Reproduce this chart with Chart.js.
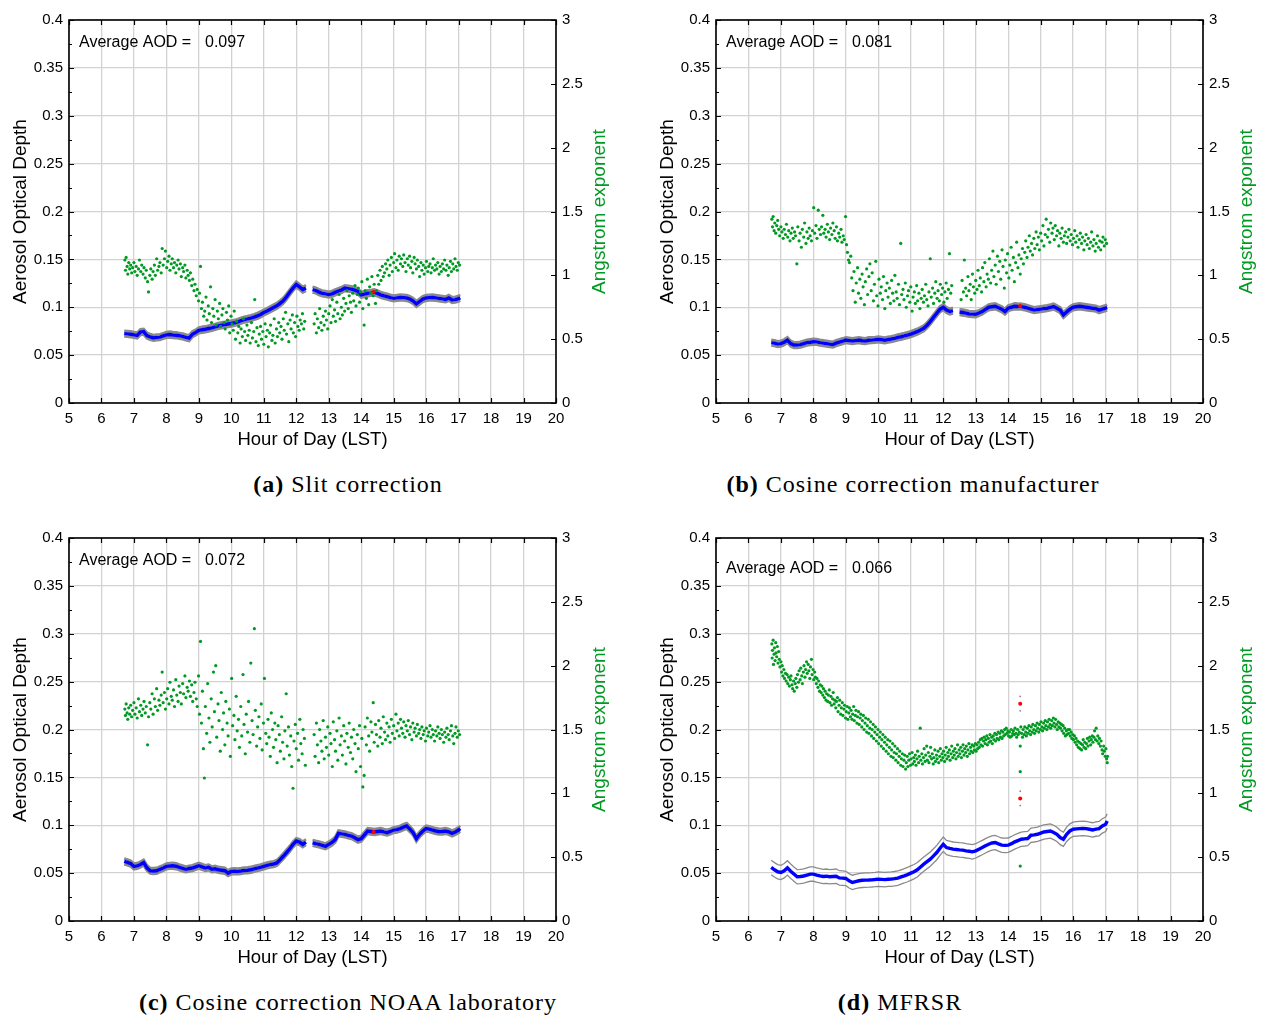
<!DOCTYPE html>
<html>
<head>
<meta charset="utf-8">
<script src="https://cdn.jsdelivr.net/npm/chart.js@4.4.1/dist/chart.umd.min.js"></script>
<style>
  html, body { margin: 0; padding: 0; background: #fff; }
  body { width: 1263px; height: 1017px; position: relative; overflow: hidden; }
  canvas { position: absolute; }
  .cap { position: absolute; transform: translate(-50%, -50%); font-family: 'Liberation Serif', serif; font-size: 24px; letter-spacing: 1px; white-space: nowrap; color: #000; }
</style>
</head>
<body>
<canvas id="panelA" width="616" height="460" style="left:0px;top:0px"></canvas>
<canvas id="panelB" width="616" height="460" style="left:647px;top:0px"></canvas>
<canvas id="panelC" width="616" height="460" style="left:0px;top:518px"></canvas>
<canvas id="panelD" width="616" height="460" style="left:647px;top:518px"></canvas>
<div class="cap" style="left:348px;top:484px"><b>(a)</b> Slit correction</div>
<div class="cap" style="left:913px;top:484px"><b>(b)</b> Cosine correction manufacturer</div>
<div class="cap" style="left:348px;top:1002px"><b>(c)</b> Cosine correction NOAA laboratory</div>
<div class="cap" style="left:900px;top:1002px"><b>(d)</b> MFRSR</div>
<script>
// axis ticks
const hourTicks = [5,6,7,8,9,10,11,12,13,14,15,16,17,18,19,20];
const aodTicks = [0,0.05,0.1,0.15,0.2,0.25,0.3,0.35,0.4];
const angTicks = [0,0.5,1,1.5,2,2.5,3];

// time of the AOD samples (hour, LST)
const hours = [6.7,6.8,6.9,7.0,7.1,7.2,7.3,7.4,7.5,7.6,7.7,7.8,7.9,8.0,8.1,8.2,8.3,8.4,8.5,8.6,
  8.7,8.8,8.9,9.0,9.1,9.2,9.3,9.4,9.5,9.6,9.7,9.8,9.9,10.0,10.1,10.2,10.3,10.4,10.5,10.6,
  10.7,10.8,10.9,11.0,11.1,11.2,11.3,11.4,11.5,11.6,11.7,11.8,11.9,12.0,12.1,12.2,12.3,12.4,12.5,12.6,
  12.7,12.8,12.9,13.0,13.1,13.2,13.3,13.4,13.5,13.6,13.7,13.8,13.9,14.0,14.1,14.2,14.3,14.4,14.5,14.6,
  14.7,14.8,14.9,15.0,15.1,15.2,15.3,15.4,15.5,15.6,15.7,15.8,15.9,16.0,16.1,16.2,16.3,16.4,16.5,16.6,
  16.7,16.8,16.9,17.0,17.05];

// AOD per correction method (null = no data)
const aodA = [.0725,.0722,.0718,.0712,.0705,.0740,.0745,.0705,.0690,.0680,
  .0685,.0688,.0700,.0712,.0715,.0710,.0708,.0702,.0695,.0685,
  .0678,.0718,.0735,.0758,.0765,.0770,.0778,.0785,.0795,.0806,
  .0812,.0818,.0825,.0830,.0838,.0848,.0860,.0870,.0878,.0887,
  .0898,.0910,.0925,.0945,.0960,.0980,.0998,.1015,.1040,.1068,
  .1110,.1156,.1200,.1238,.1212,.1185,.1200,null,.1185,.1175,
  .1158,.1145,.1140,.1132,.1140,.1155,.1170,.1182,.1200,.1195,
  .1190,.1178,.1165,.1130,.1138,.1146,.1150,.1156,.1145,.1130,
  .1120,.1110,.1100,.1093,.1098,.1102,.1100,.1097,.1085,.1065,
  .1035,.1060,.1085,.1097,.1100,.1102,.1098,.1093,.1088,.1082,
  .1098,.1076,.1080,.1090,.1100];
const aodB = [.0630,.0625,.0615,.0620,.0635,.0657,.0620,.0605,.0605,.0610,
  .0620,.0630,.0635,.0640,.0638,.0630,.0625,.0620,.0615,.0610,
  .0625,.0636,.0645,.0657,.0652,.0647,.0652,.0657,.0650,.0647,
  .0655,.0657,.0660,.0664,.0660,.0655,.0662,.0668,.0675,.0685,
  .0692,.0700,.0710,.0720,.0732,.0745,.0762,.0780,.0812,.0850,
  .0895,.0937,.0980,.1000,.0970,.0955,.0965,null,.0950,.0945,
  .0938,.0930,.0928,.0927,.0940,.0955,.0978,.1000,.1005,.1010,
  .0995,.0980,.0955,.0990,.1000,.1010,.1008,.1007,.1000,.0990,
  .0980,.0970,.0975,.0980,.0985,.0990,.0998,.1007,.0990,.0970,
  .0920,.0950,.0980,.1000,.1005,.1010,.1005,.1000,.0995,.0990,
  .0985,.0970,.0980,.0990,.0995];
const aodC = [.0623,.0612,.0600,.0570,.0575,.0590,.0610,.0555,.0525,.0522,
  .0525,.0540,.0553,.0570,.0575,.0577,.0572,.0560,.0550,.0540,
  .0548,.0553,.0565,.0577,.0565,.0553,.0560,.0540,.0545,.0535,
  .0530,.0525,.0500,.0518,.0520,.0518,.0522,.0528,.0530,.0535,
  .0545,.0553,.0560,.0570,.0580,.0588,.0595,.0606,.0640,.0676,
  .0715,.0754,.0800,.0835,.0824,.0800,.0824,null,.0817,.0808,
  .0800,.0790,.0780,.0800,.0820,.0850,.0915,.0910,.0905,.0895,
  .0887,.0870,.0850,.0860,.0900,.0940,.0935,.0930,.0935,.0940,
  .0930,.0923,.0935,.0950,.0955,.0965,.0980,.0993,.0960,.0923,
  .0860,.0905,.0940,.0965,.0960,.0950,.0940,.0933,.0935,.0940,
  .0930,.0915,.0930,.0950,.0965];
const aodD = [.0559,.0535,.0514,.0507,.0525,.0555,.0520,.0490,.0462,.0465,
  .0470,.0480,.0490,.0490,.0480,.0472,.0465,.0468,.0462,.0465,
  .0468,.0450,.0448,.0444,.0420,.0403,.0412,.0420,.0425,.0427,
  .0428,.0430,.0433,.0437,.0435,.0432,.0436,.0437,.0442,.0448,
  .0460,.0472,.0485,.0500,.0515,.0535,.0565,.0594,.0620,.0646,
  .0680,.0715,.0760,.0802,.0767,.0758,.0750,.0747,.0743,.0740,
  .0733,.0728,.0722,.0733,.0750,.0767,.0785,.0802,.0815,.0820,
  .0805,.0792,.0790,.0792,.0808,.0826,.0840,.0854,.0858,.0861,
  .0896,.0900,.0906,.0918,.0930,.0935,.0940,.0925,.0905,.0872,
  .0854,.0906,.0940,.0958,.0962,.0965,.0967,.0965,.0958,.0951,
  .0960,.0965,.0993,.1010,.1045];

// half width of the AOD uncertainty band
const errA = 0.003, errB = 0.003, errC = 0.003, errD = 0.0075;

// flagged AOD samples [hour, aod]
const flagA = [[14.38,0.116]];
const flagB = [[14.37,0.1014]];
const flagC = [[14.38,0.093]];
const flagD = [[14.37,0.227],[14.37,0.128]];

// Angstrom exponent samples [hour, alpha]
const angA = [[6.72,1.12],[6.74,1.04],[6.76,1.14],[6.79,1.07],[6.81,1.01],[6.84,1.10],[6.87,1.05],[6.90,1.08],[6.93,1.02],[6.96,1.06],
  [7.00,1.10],[7.03,1.03],[7.07,1.07],[7.10,1.00],[7.14,1.05],[7.17,1.12],[7.21,1.03],[7.24,1.08],[7.28,1.01],[7.31,1.06],
  [7.35,0.98],[7.38,1.04],[7.42,0.95],[7.45,0.87],[7.49,1.00],[7.52,1.05],[7.56,0.97],[7.59,1.03],[7.63,1.08],[7.66,1.00],
  [7.70,1.13],[7.73,1.04],[7.77,1.07],[7.80,1.10],[7.84,1.02],[7.87,1.21],[7.90,1.08],[7.94,1.13],[7.97,1.19],[8.01,1.06],
  [8.04,1.11],[8.08,1.15],[8.11,1.04],[8.15,1.09],[8.18,1.13],[8.22,1.06],[8.25,1.10],[8.29,1.02],[8.32,1.08],[8.36,1.12],
  [8.39,1.05],[8.43,1.09],[8.46,0.99],[8.50,1.06],[8.53,1.03],[8.57,1.08],[8.60,0.98],[8.64,1.04],[8.67,1.00],[8.71,0.96],
  [8.74,1.02],[8.78,0.92],[8.81,0.97],[8.85,0.88],[8.88,0.93],[8.92,0.84],[8.95,0.89],[8.99,0.80],[9.02,0.86],[9.05,1.07],
  [9.08,0.74],[9.11,0.79],[9.15,0.68],[9.18,0.72],[9.22,0.83],[9.25,0.65],[9.29,0.76],[9.32,0.70],[9.36,0.91],[9.39,0.63],
  [9.43,0.74],[9.46,0.68],[9.50,0.81],[9.53,0.61],[9.57,0.72],[9.60,0.66],[9.64,0.78],[9.67,0.60],[9.71,0.69],[9.74,0.74],
  [9.78,0.63],[9.81,0.58],[9.85,0.71],[9.88,0.65],[9.92,0.76],[9.95,0.55],[9.99,0.68],[10.02,0.62],[10.06,0.57],[10.09,0.72],
  [10.13,0.50],[10.16,0.64],[10.20,0.55],[10.23,0.60],[10.27,0.47],[10.30,0.58],[10.34,0.52],[10.37,0.66],[10.41,0.56],[10.44,0.49],
  [10.48,0.61],[10.51,0.53],[10.55,0.57],[10.58,0.47],[10.62,0.63],[10.65,0.51],[10.69,0.56],[10.72,0.81],[10.76,0.48],[10.79,0.59],
  [10.83,0.45],[10.86,0.54],[10.90,0.60],[10.93,0.50],[10.97,0.56],[11.00,0.46],[11.04,0.62],[11.07,0.52],[11.11,0.57],[11.14,0.44],
  [11.18,0.55],[11.21,0.61],[11.25,0.49],[11.28,0.53],[11.32,0.66],[11.35,0.47],[11.39,0.58],[11.42,0.52],[11.46,0.63],[11.49,0.55],
  [11.53,0.60],[11.56,0.50],[11.60,0.66],[11.63,0.57],[11.67,0.71],[11.70,0.54],[11.74,0.62],[11.77,0.48],[11.81,0.65],[11.84,0.58],
  [11.88,0.69],[11.91,0.55],[11.95,0.63],[11.98,0.52],[12.02,0.68],[12.05,0.60],[12.09,0.57],[12.12,0.65],[12.16,0.62],[12.19,0.70],
  [12.23,0.58],[12.26,0.64],[12.55,0.62],[12.58,0.70],[12.62,0.55],[12.65,0.66],[12.69,0.59],[12.72,0.74],[12.76,0.63],[12.79,0.57],
  [12.83,0.68],[12.86,0.61],[12.90,0.72],[12.93,0.65],[12.97,0.58],[13.00,0.70],[13.04,0.76],[13.07,0.63],[13.11,0.81],[13.14,0.68],
  [13.18,0.73],[13.21,0.64],[13.25,0.79],[13.28,0.70],[13.32,0.85],[13.35,0.66],[13.39,0.75],[13.42,0.69],[13.46,0.82],[13.49,0.72],
  [13.53,0.78],[13.56,0.88],[13.60,0.74],[13.63,0.84],[13.67,0.79],[13.70,0.71],[13.74,0.86],[13.77,0.80],[13.81,0.92],[13.84,0.76],
  [13.88,0.85],[13.91,0.90],[13.95,0.79],[13.98,0.87],[14.02,0.95],[14.05,0.74],[14.09,0.61],[14.12,0.88],[14.16,0.82],[14.19,0.97],
  [14.23,0.77],[14.26,0.91],[14.30,0.86],[14.33,0.99],[14.37,0.84],[14.40,0.93],[14.44,0.78],[14.47,0.88],[14.51,1.00],[14.54,0.93],
  [14.58,1.04],[14.61,0.96],[14.65,1.07],[14.68,0.99],[14.72,1.02],[14.75,1.09],[14.79,1.05],[14.82,1.12],[14.86,1.00],[14.89,1.08],
  [14.93,1.14],[14.96,1.03],[15.00,1.10],[15.03,1.17],[15.07,1.06],[15.10,1.12],[15.14,1.04],[15.17,1.15],[15.21,1.09],[15.24,1.13],
  [15.28,1.07],[15.31,1.16],[15.35,1.10],[15.38,1.03],[15.42,1.13],[15.45,1.08],[15.49,1.15],[15.52,1.06],[15.56,1.11],[15.59,1.02],
  [15.63,1.14],[15.66,1.09],[15.70,1.05],[15.73,1.12],[15.77,1.07],[15.80,0.99],[15.84,1.10],[15.87,1.04],[15.91,1.08],[15.94,1.01],
  [15.98,1.06],[16.01,1.11],[16.05,1.03],[16.08,1.07],[16.12,1.09],[16.15,1.02],[16.19,1.06],[16.22,1.13],[16.26,1.04],[16.29,1.08],
  [16.33,1.05],[16.36,1.10],[16.40,1.01],[16.43,1.07],[16.47,1.03],[16.50,1.09],[16.54,1.05],[16.57,1.12],[16.61,1.04],[16.64,1.08],
  [16.68,1.00],[16.71,1.06],[16.75,1.11],[16.78,1.03],[16.82,1.09],[16.85,1.05],[16.89,1.13],[16.92,1.07],[16.96,1.04],[16.99,1.10],
  [17.03,1.08]];
const angB = [[6.72,1.44],[6.74,1.38],[6.76,1.46],[6.79,1.35],[6.81,1.41],[6.84,1.33],[6.87,1.39],[6.90,1.43],[6.93,1.36],[6.96,1.31],
  [7.00,1.38],[7.03,1.34],[7.07,1.29],[7.10,1.36],[7.14,1.32],[7.17,1.40],[7.21,1.30],[7.24,1.35],[7.28,1.27],[7.31,1.33],
  [7.35,1.37],[7.38,1.29],[7.42,1.34],[7.45,1.31],[7.49,1.09],[7.52,1.38],[7.56,1.27],[7.59,1.33],[7.63,1.22],[7.66,1.36],
  [7.70,1.30],[7.73,1.41],[7.77,1.25],[7.80,1.34],[7.84,1.29],[7.87,1.37],[7.90,1.31],[7.94,1.27],[7.97,1.35],[8.01,1.53],
  [8.04,1.33],[8.08,1.39],[8.11,1.29],[8.15,1.51],[8.18,1.36],[8.22,1.32],[8.25,1.38],[8.29,1.47],[8.32,1.33],[8.36,1.36],
  [8.39,1.30],[8.43,1.40],[8.46,1.34],[8.50,1.28],[8.53,1.37],[8.57,1.32],[8.60,1.41],[8.64,1.35],[8.67,1.29],[8.71,1.38],
  [8.74,1.27],[8.78,1.33],[8.81,1.30],[8.85,1.36],[8.88,1.26],[8.92,1.31],[8.95,1.28],[8.99,1.46],[9.02,1.24],[9.05,1.18],
  [9.08,1.12],[9.11,1.10],[9.15,1.15],[9.18,0.98],[9.22,0.88],[9.25,1.03],[9.29,0.79],[9.32,0.94],[9.36,1.06],[9.39,0.86],
  [9.43,0.97],[9.46,0.82],[9.50,1.01],[9.53,0.91],[9.57,0.77],[9.60,0.95],[9.64,1.05],[9.67,0.85],[9.71,0.99],[9.74,1.09],
  [9.78,0.88],[9.81,1.02],[9.85,0.80],[9.88,0.93],[9.92,1.11],[9.95,0.84],[9.99,0.76],[10.02,0.97],[10.06,0.86],[10.09,0.91],
  [10.13,0.81],[10.16,0.99],[10.20,0.74],[10.23,0.88],[10.27,0.94],[10.30,0.83],[10.34,0.90],[10.37,0.78],[10.41,0.96],[10.44,0.86],
  [10.48,0.80],[10.51,1.00],[10.55,0.87],[10.58,0.82],[10.62,0.93],[10.65,0.77],[10.69,1.25],[10.72,0.85],[10.76,0.89],[10.79,0.81],
  [10.83,0.94],[10.86,0.75],[10.90,0.84],[10.93,0.88],[10.97,0.79],[11.00,0.91],[11.04,0.72],[11.07,0.83],[11.11,0.87],[11.14,0.78],
  [11.18,0.92],[11.21,0.80],[11.25,0.86],[11.28,0.74],[11.32,0.82],[11.35,0.89],[11.39,0.79],[11.42,0.84],[11.46,0.93],[11.49,0.81],
  [11.53,0.76],[11.56,0.87],[11.60,1.13],[11.63,0.83],[11.67,0.90],[11.70,0.78],[11.74,0.86],[11.77,0.95],[11.81,0.82],[11.84,0.88],
  [11.88,0.80],[11.91,0.93],[11.95,0.85],[11.98,0.90],[12.02,0.79],[12.05,0.87],[12.09,0.94],[12.12,0.82],[12.16,0.89],[12.19,1.17],
  [12.23,0.86],[12.26,0.92],[12.55,0.81],[12.58,0.96],[12.62,0.87],[12.65,1.12],[12.69,0.90],[12.72,0.84],[12.76,0.99],[12.79,0.88],
  [12.83,0.93],[12.86,0.81],[12.90,1.01],[12.93,0.91],[12.97,0.86],[13.00,0.96],[13.04,0.89],[13.07,1.04],[13.11,0.92],[13.14,0.98],
  [13.18,0.87],[13.21,1.06],[13.25,0.95],[13.28,1.10],[13.32,0.91],[13.35,1.01],[13.39,0.97],[13.42,1.13],[13.46,0.94],[13.49,1.04],
  [13.53,1.19],[13.56,0.99],[13.60,1.08],[13.63,0.93],[13.67,1.15],[13.70,1.03],[13.74,1.11],[13.77,0.97],[13.81,1.20],[13.84,1.07],
  [13.88,0.90],[13.91,1.12],[13.95,1.02],[13.98,1.17],[14.02,0.98],[14.05,1.08],[14.09,1.22],[14.12,1.04],[14.16,1.14],[14.19,0.95],
  [14.23,1.10],[14.26,1.26],[14.30,1.06],[14.33,1.16],[14.37,1.01],[14.40,1.13],[14.44,1.21],[14.47,1.09],[14.51,1.18],[14.54,1.27],
  [14.58,1.14],[14.61,1.22],[14.65,1.31],[14.68,1.19],[14.72,1.25],[14.75,1.16],[14.79,1.29],[14.82,1.21],[14.86,1.34],[14.89,1.24],
  [14.93,1.30],[14.96,1.20],[15.00,1.33],[15.03,1.27],[15.07,1.39],[15.10,1.23],[15.14,1.32],[15.17,1.44],[15.21,1.30],[15.24,1.36],
  [15.28,1.26],[15.31,1.41],[15.35,1.33],[15.38,1.37],[15.42,1.28],[15.45,1.39],[15.49,1.31],[15.52,1.35],[15.56,1.23],[15.59,1.33],
  [15.63,1.29],[15.66,1.37],[15.70,1.26],[15.73,1.31],[15.77,1.34],[15.80,1.25],[15.84,1.30],[15.87,1.36],[15.91,1.27],[15.94,1.32],
  [15.98,1.24],[16.01,1.29],[16.05,1.35],[16.08,1.26],[16.12,1.31],[16.15,1.22],[16.19,1.28],[16.22,1.33],[16.26,1.25],[16.29,1.30],
  [16.33,1.20],[16.36,1.27],[16.40,1.32],[16.43,1.24],[16.47,1.29],[16.50,1.21],[16.54,1.26],[16.57,1.34],[16.61,1.23],[16.64,1.28],
  [16.68,1.19],[16.71,1.25],[16.75,1.31],[16.78,1.22],[16.82,1.27],[16.85,1.20],[16.89,1.26],[16.92,1.30],[16.96,1.23],[16.99,1.28],
  [17.03,1.25]];
const angC = [[6.72,1.66],[6.74,1.61],[6.76,1.70],[6.79,1.63],[6.81,1.58],[6.84,1.67],[6.87,1.62],[6.90,1.69],[6.93,1.60],[6.96,1.65],
  [7.00,1.71],[7.03,1.62],[7.07,1.67],[7.10,1.59],[7.14,1.74],[7.17,1.64],[7.21,1.69],[7.24,1.61],[7.28,1.66],[7.31,1.72],
  [7.35,1.63],[7.38,1.68],[7.42,1.38],[7.45,1.60],[7.49,1.71],[7.52,1.66],[7.56,1.78],[7.59,1.62],[7.63,1.74],[7.66,1.68],
  [7.70,1.82],[7.73,1.65],[7.77,1.73],[7.80,1.69],[7.84,1.77],[7.87,1.95],[7.90,1.71],[7.94,1.79],[7.97,1.66],[8.01,1.74],
  [8.04,1.82],[8.08,1.70],[8.11,1.87],[8.15,1.76],[8.18,1.73],[8.22,1.81],[8.25,1.68],[8.29,1.89],[8.32,1.77],[8.36,1.72],
  [8.39,1.84],[8.43,1.79],[8.46,1.70],[8.50,1.86],[8.53,1.78],[8.57,1.92],[8.60,1.75],[8.64,1.83],[8.67,1.80],[8.71,1.88],
  [8.74,1.76],[8.78,1.85],[8.81,1.72],[8.85,1.79],[8.88,1.87],[8.92,1.74],[8.95,1.68],[8.99,1.92],[9.02,1.62],[9.05,2.19],
  [9.08,1.55],[9.11,1.80],[9.14,1.35],[9.17,1.12],[9.20,1.68],[9.24,1.47],[9.27,1.86],[9.31,1.59],[9.34,1.40],[9.38,1.74],
  [9.41,1.52],[9.45,1.95],[9.48,1.64],[9.52,2.00],[9.55,1.44],[9.59,1.70],[9.62,1.57],[9.66,1.33],[9.69,1.79],[9.73,1.50],
  [9.76,1.63],[9.80,1.38],[9.83,1.72],[9.87,1.55],[9.90,1.45],[9.94,1.66],[9.97,1.29],[10.01,1.90],[10.04,1.53],[10.08,1.61],
  [10.11,1.42],[10.15,1.76],[10.18,1.49],[10.22,1.58],[10.25,1.36],[10.29,1.68],[10.32,1.45],[10.36,1.93],[10.39,1.54],[10.43,1.31],
  [10.46,1.62],[10.50,1.48],[10.53,1.72],[10.57,1.40],[10.60,2.02],[10.64,1.57],[10.67,1.46],[10.71,2.29],[10.74,1.65],[10.78,1.37],
  [10.81,1.52],[10.85,1.60],[10.88,1.43],[10.92,1.70],[10.95,1.34],[10.99,1.55],[11.02,1.90],[11.06,1.47],[11.09,1.39],[11.13,1.58],
  [11.16,1.44],[11.20,1.29],[11.23,1.63],[11.27,1.50],[11.30,1.36],[11.34,1.55],[11.37,1.42],[11.41,1.24],[11.44,1.53],[11.48,1.46],
  [11.51,1.33],[11.55,1.60],[11.58,1.40],[11.62,1.27],[11.65,1.49],[11.69,1.78],[11.72,1.37],[11.76,1.52],[11.79,1.30],[11.83,1.45],
  [11.86,1.21],[11.90,1.04],[11.93,1.41],[11.97,1.54],[12.00,1.35],[12.04,1.47],[12.07,1.26],[12.11,1.58],[12.14,1.39],[12.18,1.31],
  [12.21,1.50],[12.25,1.43],[12.28,1.22],[12.55,1.46],[12.58,1.29],[12.62,1.55],[12.65,1.38],[12.69,1.24],[12.72,1.50],[12.76,1.41],
  [12.79,1.33],[12.83,1.57],[12.86,1.27],[12.90,1.44],[12.93,1.36],[12.97,1.52],[13.00,1.30],[13.04,1.47],[13.07,1.39],[13.11,1.21],
  [13.14,1.56],[13.18,1.42],[13.21,1.33],[13.25,1.49],[13.28,1.26],[13.32,1.59],[13.35,1.38],[13.39,1.45],[13.42,1.30],[13.46,1.53],
  [13.49,1.41],[13.53,1.23],[13.56,1.47],[13.60,1.36],[13.63,1.55],[13.67,1.32],[13.70,1.44],[13.74,1.27],[13.77,1.50],[13.81,1.39],
  [13.84,1.17],[13.88,1.46],[13.91,1.35],[13.95,1.53],[13.98,1.21],[14.02,1.43],[14.05,1.05],[14.09,1.14],[14.12,1.52],[14.16,1.38],
  [14.19,1.59],[14.23,1.45],[14.26,1.33],[14.30,1.56],[14.33,1.48],[14.37,1.71],[14.40,1.40],[14.44,1.54],[14.47,1.46],[14.51,1.37],
  [14.54,1.57],[14.58,1.44],[14.61,1.51],[14.65,1.39],[14.68,1.60],[14.72,1.48],[14.75,1.42],[14.79,1.55],[14.82,1.45],[14.86,1.52],
  [14.89,1.40],[14.93,1.58],[14.96,1.47],[15.00,1.53],[15.03,1.43],[15.07,1.62],[15.10,1.49],[15.14,1.55],[15.17,1.45],[15.21,1.58],
  [15.24,1.51],[15.28,1.47],[15.31,1.56],[15.35,1.44],[15.38,1.53],[15.42,1.49],[15.45,1.57],[15.49,1.46],[15.52,1.52],[15.56,1.42],
  [15.59,1.55],[15.63,1.48],[15.66,1.51],[15.70,1.45],[15.73,1.54],[15.77,1.47],[15.80,1.50],[15.84,1.43],[15.87,1.52],[15.91,1.46],
  [15.94,1.49],[15.98,1.41],[16.01,1.51],[16.05,1.45],[16.08,1.48],[16.12,1.53],[16.15,1.44],[16.19,1.50],[16.22,1.46],[16.26,1.41],
  [16.29,1.49],[16.33,1.45],[16.36,1.52],[16.40,1.47],[16.43,1.43],[16.47,1.50],[16.50,1.46],[16.54,1.40],[16.57,1.48],[16.61,1.44],
  [16.64,1.51],[16.68,1.46],[16.71,1.42],[16.75,1.49],[16.78,1.53],[16.82,1.45],[16.85,1.39],[16.89,1.47],[16.92,1.52],[16.96,1.44],
  [16.99,1.49],[17.03,1.46]];
const angD = [[6.72,2.17],[6.73,2.06],[6.74,2.12],[6.76,2.20],[6.77,2.01],[6.79,2.09],[6.80,2.14],[6.82,2.04],[6.84,2.18],[6.85,2.10],
  [6.87,2.07],[6.89,2.15],[6.91,2.02],[6.93,2.11],[6.95,2.05],[6.97,1.99],[7.00,2.03],[7.02,1.95],[7.04,2.00],[7.06,1.92],
  [7.09,1.97],[7.11,1.90],[7.14,1.94],[7.16,1.88],[7.19,1.93],[7.21,1.86],[7.24,1.91],[7.26,1.84],[7.29,1.89],[7.31,1.92],
  [7.34,1.85],[7.36,1.82],[7.39,1.88],[7.41,1.80],[7.44,1.86],[7.46,1.90],[7.49,1.83],[7.51,1.93],[7.54,1.87],[7.56,1.96],
  [7.59,1.89],[7.61,1.98],[7.64,1.92],[7.66,1.86],[7.69,1.95],[7.71,2.00],[7.74,1.91],[7.76,1.97],[7.79,2.03],[7.81,1.94],
  [7.84,2.01],[7.86,1.96],[7.89,1.90],[7.91,1.99],[7.94,2.05],[7.96,1.93],[7.99,1.97],[8.01,1.89],[8.04,1.95],[8.06,1.91],
  [8.09,1.86],[8.11,1.90],[8.14,1.83],[8.16,1.88],[8.19,1.80],[8.21,1.85],[8.24,1.79],[8.26,1.84],[8.29,1.77],[8.31,1.82],
  [8.34,1.75],[8.36,1.80],[8.39,1.73],[8.41,1.78],[8.44,1.72],[8.46,1.77],[8.49,1.81],[8.51,1.71],[8.54,1.76],[8.56,1.69],
  [8.59,1.74],[8.61,1.79],[8.64,1.70],[8.66,1.73],[8.69,1.67],[8.71,1.72],[8.74,1.75],[8.76,1.64],[8.79,1.69],[8.81,1.73],
  [8.84,1.62],[8.86,1.67],[8.89,1.71],[8.91,1.61],[8.94,1.66],[8.96,1.69],[8.99,1.59],[9.01,1.64],[9.04,1.68],[9.06,1.58],
  [9.09,1.63],[9.11,1.67],[9.14,1.60],[9.16,1.65],[9.19,1.58],[9.21,1.62],[9.24,1.68],[9.26,1.57],[9.29,1.61],[9.31,1.65],
  [9.34,1.55],[9.36,1.60],[9.39,1.64],[9.41,1.54],[9.44,1.59],[9.46,1.62],[9.49,1.52],[9.51,1.57],[9.54,1.61],[9.56,1.50],
  [9.59,1.55],[9.61,1.59],[9.64,1.48],[9.66,1.53],[9.69,1.58],[9.71,1.47],[9.74,1.51],[9.76,1.56],[9.79,1.45],[9.81,1.50],
  [9.84,1.54],[9.86,1.43],[9.89,1.48],[9.91,1.52],[9.94,1.41],[9.96,1.46],[9.99,1.50],[10.01,1.39],[10.04,1.44],[10.06,1.48],
  [10.09,1.37],[10.11,1.42],[10.14,1.46],[10.16,1.35],[10.19,1.40],[10.21,1.44],[10.24,1.33],[10.26,1.38],[10.29,1.42],[10.31,1.31],
  [10.34,1.36],[10.36,1.41],[10.39,1.29],[10.41,1.34],[10.44,1.39],[10.46,1.28],[10.49,1.32],[10.51,1.37],[10.54,1.26],[10.56,1.31],
  [10.59,1.35],[10.61,1.24],[10.64,1.29],[10.66,1.33],[10.69,1.22],[10.71,1.27],[10.74,1.31],[10.76,1.21],[10.79,1.26],[10.81,1.30],
  [10.84,1.19],[10.86,1.24],[10.89,1.29],[10.91,1.21],[10.94,1.26],[10.96,1.31],[10.99,1.22],[11.01,1.27],[11.04,1.32],[11.06,1.23],
  [11.09,1.28],[11.11,1.25],[11.14,1.30],[11.16,1.22],[11.19,1.27],[11.21,1.33],[11.24,1.24],[11.26,1.29],[11.29,1.51],[11.31,1.26],
  [11.34,1.31],[11.36,1.23],[11.39,1.28],[11.41,1.35],[11.44,1.25],[11.46,1.30],[11.49,1.37],[11.51,1.26],[11.54,1.32],[11.56,1.24],
  [11.59,1.29],[11.61,1.36],[11.64,1.27],[11.66,1.31],[11.69,1.23],[11.71,1.28],[11.74,1.34],[11.76,1.25],[11.79,1.30],[11.81,1.27],
  [11.84,1.33],[11.86,1.24],[11.89,1.29],[11.91,1.35],[11.94,1.26],[11.96,1.31],[11.99,1.28],[12.01,1.33],[12.04,1.25],[12.06,1.30],
  [12.09,1.36],[12.11,1.27],[12.14,1.32],[12.16,1.29],[12.19,1.34],[12.21,1.26],[12.24,1.31],[12.26,1.37],[12.29,1.28],[12.31,1.33],
  [12.34,1.30],[12.36,1.35],[12.39,1.27],[12.41,1.32],[12.44,1.38],[12.46,1.29],[12.49,1.34],[12.51,1.31],[12.54,1.36],[12.56,1.28],
  [12.59,1.33],[12.61,1.38],[12.64,1.30],[12.66,1.35],[12.69,1.32],[12.71,1.37],[12.74,1.29],[12.76,1.34],[12.79,1.39],[12.81,1.31],
  [12.84,1.36],[12.86,1.33],[12.89,1.38],[12.91,1.32],[12.94,1.37],[12.96,1.34],[12.99,1.39],[13.01,1.33],[13.04,1.38],[13.06,1.35],
  [13.09,1.40],[13.11,1.36],[13.14,1.42],[13.16,1.38],[13.19,1.43],[13.21,1.37],[13.24,1.41],[13.26,1.44],[13.29,1.39],[13.31,1.42],
  [13.34,1.45],[13.36,1.38],[13.39,1.43],[13.41,1.40],[13.44,1.46],[13.46,1.41],[13.49,1.44],[13.51,1.39],[13.54,1.45],[13.56,1.42],
  [13.59,1.47],[13.61,1.41],[13.64,1.46],[13.66,1.43],[13.69,1.48],[13.71,1.42],[13.74,1.47],[13.76,1.44],[13.79,1.49],[13.81,1.43],
  [13.84,1.48],[13.86,1.45],[13.89,1.50],[13.91,1.46],[13.94,1.51],[13.96,1.47],[13.99,1.49],[14.01,1.45],[14.04,1.48],[14.06,1.44],
  [14.09,1.50],[14.11,1.45],[14.14,1.47],[14.16,1.49],[14.19,1.46],[14.21,1.51],[14.24,1.47],[14.26,1.44],[14.29,1.50],[14.31,1.46],
  [14.34,1.48],[14.37,1.37],[14.37,1.17],[14.37,0.43],[14.39,1.52],[14.41,1.47],[14.44,1.44],[14.46,1.50],[14.49,1.46],[14.51,1.52],
  [14.54,1.48],[14.56,1.45],[14.59,1.51],[14.61,1.47],[14.64,1.53],[14.66,1.49],[14.69,1.46],[14.71,1.52],[14.74,1.48],[14.76,1.54],
  [14.79,1.50],[14.81,1.47],[14.84,1.53],[14.86,1.49],[14.89,1.55],[14.91,1.51],[14.94,1.48],[14.96,1.54],[14.99,1.50],[15.01,1.56],
  [15.04,1.52],[15.06,1.49],[15.09,1.55],[15.11,1.51],[15.14,1.57],[15.16,1.53],[15.19,1.50],[15.21,1.56],[15.24,1.52],[15.26,1.58],
  [15.29,1.54],[15.31,1.51],[15.34,1.57],[15.36,1.53],[15.39,1.59],[15.41,1.55],[15.44,1.52],[15.46,1.58],[15.49,1.54],[15.51,1.50],
  [15.54,1.56],[15.56,1.52],[15.59,1.55],[15.61,1.51],[15.64,1.54],[15.66,1.49],[15.69,1.53],[15.71,1.47],[15.74,1.51],[15.76,1.45],
  [15.79,1.49],[15.81,1.46],[15.84,1.50],[15.86,1.47],[15.89,1.50],[15.91,1.45],[15.94,1.48],[15.96,1.43],[15.99,1.46],[16.01,1.42],
  [16.04,1.45],[16.06,1.40],[16.09,1.43],[16.11,1.38],[16.14,1.41],[16.16,1.36],[16.19,1.40],[16.21,1.35],[16.24,1.39],[16.26,1.34],
  [16.29,1.38],[16.31,1.42],[16.34,1.36],[16.36,1.40],[16.39,1.35],[16.41,1.39],[16.44,1.43],[16.46,1.37],[16.49,1.41],[16.51,1.44],
  [16.54,1.38],[16.56,1.42],[16.59,1.45],[16.61,1.40],[16.64,1.44],[16.66,1.49],[16.69,1.42],[16.71,1.51],[16.74,1.41],[16.76,1.45],
  [16.79,1.39],[16.81,1.43],[16.84,1.37],[16.86,1.41],[16.89,1.34],[16.91,1.31],[16.94,1.37],[16.96,1.33],[16.99,1.29],[17.01,1.35],
  [17.03,1.27],[17.05,1.24],[17.06,1.29]];

const GREEN = '#009a22';
const BLUE = '#0000ff';
const GREY = '#8a8a8a';
const GRID = '#d2d2d2';
const SANS = '"Liberation Sans", Arial, sans-serif';

// frame, inward tick marks, right-hand title and the average AOD note
const framePlugin = {
  id: 'aodFrame',
  afterDatasetsDraw(chart, args, opts) {
    const { ctx, chartArea: a, scales: { x, y, y2 } } = chart;
    ctx.save();
    ctx.strokeStyle = '#000';
    ctx.lineWidth = 1.2;
    ctx.beginPath();
    hourTicks.forEach(h => {
      const px = Math.round(x.getPixelForValue(h)) + 0.5;
      ctx.moveTo(px, a.bottom); ctx.lineTo(px, a.bottom - 5);
      ctx.moveTo(px, a.top); ctx.lineTo(px, a.top + 5);
    });
    aodTicks.forEach((v, i) => {
      const py = Math.round(y.getPixelForValue(v)) + 0.5;
      ctx.moveTo(a.left, py); ctx.lineTo(a.left + 5, py);
      if (i < aodTicks.length - 1) {
        const pm = Math.round(y.getPixelForValue((v + aodTicks[i + 1]) / 2)) + 0.5;
        ctx.moveTo(a.left, pm); ctx.lineTo(a.left + 3, pm);
      }
    });
    angTicks.forEach(v => {
      const py = Math.round(y2.getPixelForValue(v)) + 0.5;
      ctx.moveTo(a.right, py); ctx.lineTo(a.right - 5, py);
    });
    ctx.stroke();
    ctx.lineWidth = 1.6;
    ctx.strokeRect(a.left, a.top, a.right - a.left, a.bottom - a.top);

    ctx.fillStyle = '#000';
    ctx.font = '16px ' + SANS;
    ctx.textBaseline = 'alphabetic';
    ctx.fillText('Average AOD =', a.left + 10, a.top + 27 + opts.dy);
    ctx.fillText(opts.avg, a.left + 136, a.top + 27 + opts.dy);

    ctx.translate(a.right + 44, (a.top + a.bottom) / 2);
    ctx.rotate(-Math.PI / 2);
    ctx.textAlign = 'center';
    ctx.textBaseline = 'middle';
    ctx.fillStyle = GREEN;
    ctx.font = '19px ' + SANS;
    ctx.fillText('Angstrom exponent', 0, 0);
    ctx.restore();
  }
};

function tickFont() { return { family: SANS, size: 15 }; }

function makePanel(id, aod, err, ang, flags, avg, dy) {
  const line = aod.map((v, i) => ({ x: hours[i], y: v }));
  const upper = aod.map((v, i) => ({ x: hours[i], y: v === null ? null : v + err }));
  const lower = aod.map((v, i) => ({ x: hours[i], y: v === null ? null : v - err }));
  const flagPts = flags.map(p => ({ x: p[0], y: p[1] }));
  const flagErr = [];
  flags.forEach(p => { flagErr.push({ x: p[0], y: p[1] + err }, { x: p[0], y: p[1] - err }); });
  const bandWidth = err > 0.005 ? 1.3 : 2.6;

  new Chart(document.getElementById(id), {
    type: 'scatter',
    data: {
      datasets: [
        { data: ang.map(p => ({ x: p[0], y: p[1] })), yAxisID: 'y2', pointRadius: 1.6, pointBackgroundColor: GREEN, pointBorderWidth: 0 },
        { data: flagPts, yAxisID: 'y', pointRadius: 2, pointBackgroundColor: '#ff0000', pointBorderWidth: 0 },
        { data: flagErr, yAxisID: 'y', pointRadius: 0.9, pointBackgroundColor: GREY, pointBorderWidth: 0 },
        { data: line, yAxisID: 'y', showLine: true, spanGaps: false, borderColor: BLUE, borderWidth: 3.4, pointRadius: 0 },
        { data: upper, yAxisID: 'y', showLine: true, spanGaps: false, borderColor: GREY, borderWidth: bandWidth, pointRadius: 0 },
        { data: lower, yAxisID: 'y', showLine: true, spanGaps: false, borderColor: GREY, borderWidth: bandWidth, pointRadius: 0 }
      ]
    },
    options: {
      responsive: false,
      animation: false,
      devicePixelRatio: 1,
      layout: { padding: { top: 20, left: 0, right: 0, bottom: 0 } },
      plugins: { legend: { display: false }, tooltip: { enabled: false }, aodFrame: { avg: avg, dy: dy } },
      scales: {
        x: {
          type: 'linear', min: 5, max: 20,
          afterBuildTicks: s => { s.ticks = hourTicks.map(v => ({ value: v })); },
          afterFit: s => { s.height = 57; },
          grid: { color: GRID, lineWidth: 1.3, drawTicks: false },
          border: { display: false },
          ticks: { padding: 7, color: '#000', font: tickFont(), maxRotation: 0, autoSkip: false, callback: v => String(v) },
          title: { display: true, text: 'Hour of Day (LST)', color: '#000', font: { family: SANS, size: 18.5 }, padding: { top: 0, bottom: 9 } }
        },
        y: {
          position: 'left', min: 0, max: 0.4,
          afterBuildTicks: s => { s.ticks = aodTicks.map(v => ({ value: v })); },
          afterFit: s => { s.width = 69; },
          grid: { color: GRID, lineWidth: 1.3, drawTicks: false },
          border: { display: false },
          ticks: { padding: 6, color: '#000', font: tickFont(), callback: v => String(+v.toFixed(3)) },
          title: { display: true, text: 'Aerosol Optical Depth', color: '#000', font: { family: SANS, size: 19 }, padding: { top: 9, bottom: 0 } }
        },
        y2: {
          position: 'right', min: 0, max: 3,
          afterBuildTicks: s => { s.ticks = angTicks.map(v => ({ value: v })); },
          afterFit: s => { s.width = 60; },
          grid: { display: false, drawTicks: false },
          border: { display: false },
          ticks: { padding: 6, color: '#000', font: tickFont(), callback: v => String(v) }
        }
      }
    },
    plugins: [framePlugin]
  });
}

makePanel('panelA', aodA, errA, angA, flagA, '0.097', 0);
makePanel('panelB', aodB, errB, angB, flagB, '0.081', 0);
makePanel('panelC', aodC, errC, angC, flagC, '0.072', 0);
makePanel('panelD', aodD, errD, angD, flagD, '0.066', 8);
</script>
</body>
</html>
